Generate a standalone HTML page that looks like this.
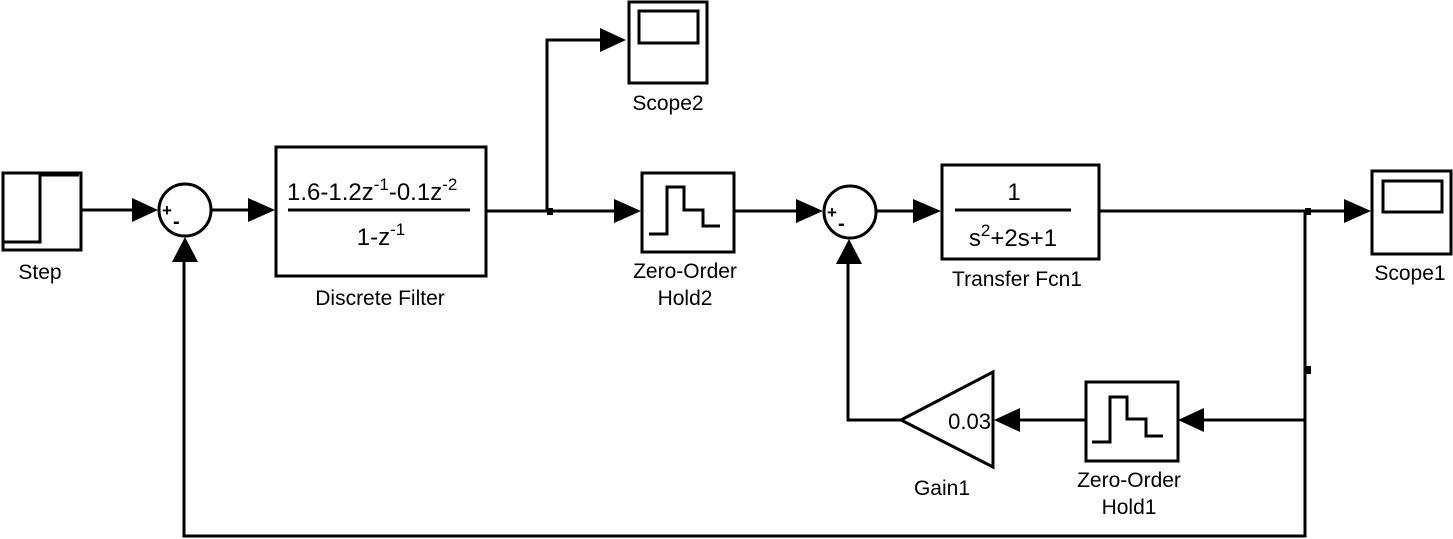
<!DOCTYPE html>
<html><head><meta charset="utf-8"><style>
html,body{margin:0;padding:0;background:#fff;}
svg{display:block;}
text{font-family:"Liberation Sans",Arial,sans-serif;fill:#000;}
</style></head><body>
<svg width="1453" height="539" viewBox="0 0 1453 539" xmlns="http://www.w3.org/2000/svg">
<g fill="none" stroke="#000" stroke-width="3">
<rect x="3" y="173" width="78" height="77"/>
<polyline points="2,242 40,242 40,175 79,175"/>
<line x1="81" y1="210" x2="132" y2="210"/>
<line x1="212" y1="210" x2="250" y2="210"/>
<line x1="486" y1="211" x2="616" y2="211"/>
<polyline points="547,211 547,40 602,40"/>
<line x1="734" y1="211" x2="798" y2="211"/>
<line x1="877" y1="211" x2="915" y2="211"/>
<line x1="1099" y1="211" x2="1346" y2="211"/>
<polyline points="1305,211 1305,536 184,536 184,262"/>
<polyline points="1305,420 1204,420"/>
<line x1="1085" y1="420" x2="1020" y2="420"/>
<polyline points="901,420 848,420 848,264"/>
<circle cx="185" cy="210" r="26"/>
<rect x="276" y="147" width="210" height="129"/>
<line x1="288" y1="210" x2="470" y2="210"/>
<rect x="629" y="2" width="78" height="81"/>
<rect x="639" y="11" width="59" height="32"/>
<rect x="642" y="173" width="92" height="79"/>
<polyline points="649,234 667,234 667,187 684,187 684,210 703,210 703,226 720,226"/>
<circle cx="850" cy="212" r="26"/>
<rect x="942" y="165" width="157" height="94"/>
<line x1="955" y1="210" x2="1071" y2="210"/>
<rect x="1372" y="171" width="79" height="83"/>
<rect x="1383" y="181" width="59" height="31"/>
<rect x="1086" y="382" width="92" height="79"/>
<polyline points="1092,442 1110,442 1110,397 1127,397 1127,419 1146,419 1146,436 1163,436"/>
<polygon points="901,420 993,372 993,467"/>
</g>
<g fill="#000">
<polygon points="132,198 158,210 132,222"/>
<polygon points="248,198 275,210 248,222"/>
<polygon points="600,28 626,40 600,52"/>
<polygon points="614,199 641,211 614,223"/>
<polygon points="796,199 823,211 796,223"/>
<polygon points="913,199 941,211 913,223"/>
<polygon points="1344,199 1371,211 1344,223"/>
<polygon points="1204,408 1178,420 1204,432"/>
<polygon points="1020,408 994,420 1020,432"/>
<polygon points="172,262 185,237 198,262"/>
<polygon points="836,264 849,239 862,264"/>
<rect x="547" y="208" width="6" height="7"/>
<rect x="1305" y="208" width="6" height="7"/>
<rect x="1305" y="366" width="6" height="8"/>
</g>
<g font-size="21">
<text x="162" y="216" font-size="17" font-weight="bold">+</text>
<text x="173" y="228" font-size="20" font-weight="bold">-</text>
<text x="827" y="218" font-size="17" font-weight="bold">+</text>
<text x="838" y="230" font-size="20" font-weight="bold">-</text>
<text x="287" y="200" font-size="24">1.6-1.2z<tspan font-size="17" dy="-10">-1</tspan><tspan dy="10">-0.1z</tspan><tspan font-size="17" dy="-10">-2</tspan></text>
<text x="381" y="245" font-size="24" text-anchor="middle">1-z<tspan font-size="17" dy="-10">-1</tspan></text>
<text x="1014" y="200" font-size="24" text-anchor="middle">1</text>
<text x="1013" y="246" font-size="24" text-anchor="middle">s<tspan font-size="17" dy="-10">2</tspan><tspan dy="10">+2s+1</tspan></text>
<text x="991" y="429" font-size="22" text-anchor="end">0.03</text>
<text x="40" y="279" text-anchor="middle">Step</text>
<text x="380" y="305" text-anchor="middle">Discrete Filter</text>
<text x="668" y="110" text-anchor="middle">Scope2</text>
<text x="685" y="278" text-anchor="middle">Zero-Order</text>
<text x="685" y="305" text-anchor="middle">Hold2</text>
<text x="1017" y="286" text-anchor="middle">Transfer Fcn1</text>
<text x="1410" y="280" text-anchor="middle">Scope1</text>
<text x="1129" y="487" text-anchor="middle">Zero-Order</text>
<text x="1129" y="514" text-anchor="middle">Hold1</text>
<text x="942" y="495" text-anchor="middle">Gain1</text>
</g>
</svg>
</body></html>
